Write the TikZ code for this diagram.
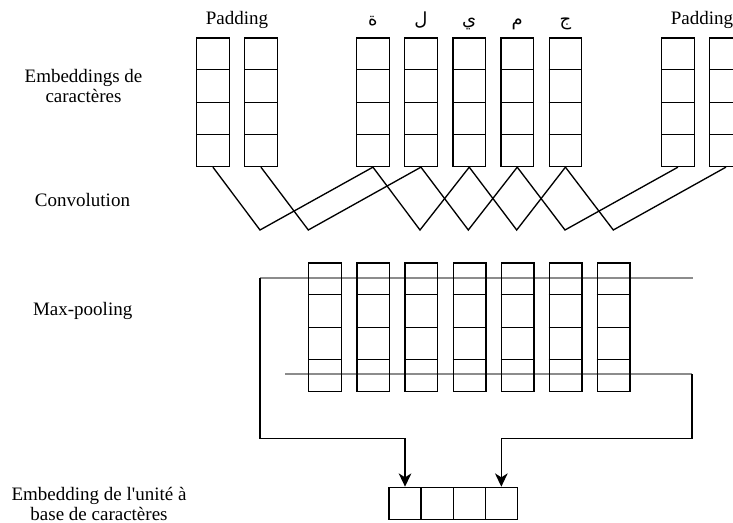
\documentclass[tikz,border=0pt]{standalone}
\usepackage{fontspec}
\setmainfont{Liberation Serif}
\newfontfamily\arabicfont[Script=Arabic]{DejaVu Sans}
\TeXXeTstate=1
\usetikzlibrary{calc,arrows.meta}
\definecolor{lgray}{RGB}{140,140,140}
\begin{document}
\begin{tikzpicture}[x=0.75pt,y=-0.75pt,
  col/.style={draw,line width=1pt,inner sep=0pt,minimum width=24.4pt,minimum height=96.4pt,anchor=north west},
  cell/.style={draw,line width=1pt,inner sep=0pt,minimum width=24.1pt,minimum height=24.2pt,anchor=north west},
  wire/.style={line width=1pt},
  grayline/.style={line width=1.5pt,draw=lgray},
  arr/.style={line width=1pt,-{Stealth[length=10pt,width=9.5pt,inset=3pt]}},
  lbl/.style={font=\fontsize{14.25}{15}\selectfont,inner sep=0pt,align=center},
  ar/.style={font=\fontsize{13.5}{15}\arabicfont,inner sep=0pt,anchor=base}]
\useasboundingbox (0,0) rectangle (733,523);
\clip (0,0) rectangle (733,523);

% labels
\node[lbl] (l1) at (83.5,86.5) {Embeddings de\\caractères};
\node[lbl,anchor=base] (l2) at (82.5,206.5) {Convolution};
\node[lbl,anchor=base] (l3) at (82.7,316) {Max-pooling};
\node[lbl] (l4) at (99,503.5) {Embedding de l\textquotesingle unité à\\base de caractères};

% top columns
\foreach \n/\x in {t1/196,t2/244,t3/356,t4/404,t5/452.3,t6/500.3,t7/548.5,t8/661,t9/709}
  \node[col] (\n) at (\x,37.3) {};

\node[lbl,anchor=base] (p1) at ($(t1.north east)!0.5!(t2.north west)+(0,-12.5)$) {Padding};
\node[lbl,anchor=base] (p2) at ($(t8.north east)!0.5!(t9.north west)+(0,-12.5)$) {Padding};
\node[ar] (a1) at ($(t3.north)+(0,-12)$) {\beginR ة\endR};
\node[ar] (a2) at ($(t4.north)+(0,-12)$) {\beginR ل\endR};
\node[ar] (a3) at ($(t5.north)+(0,-12)$) {\beginR ي\endR};
\node[ar] (a4) at ($(t6.north)+(0,-12)$) {\beginR م\endR};
\node[ar] (a5) at ($(t7.north)+(0,-12)$) {\beginR ج\endR};

% convolution
\foreach \n/\x in {v1/260,v2/308.3,v3/420,v4/468.3,v5/516.7,v6/565,v7/613.3}
  \coordinate (\n) at (\x,230);
\foreach \k [evaluate=\k as \j using int(\k+2)] in {1,...,7}
  \draw[wire] (t\k.south) -- (v\k) -- (t\j.south);

% max-pooling gray lines
\coordinate (g1a) at (260,277.7);
\coordinate (g1b) at (692.5,277.7);
\coordinate (g2a) at (285,374.3);
\coordinate (g2b) at (692,374.3);
\draw[grayline] (g1a) -- (g1b);
\draw[grayline] (g2a) -- (g2b);

% middle columns
\foreach \n/\x in {m1/308,m2/356.3,m3/404.3,m4/452.7,m5/500.7,m6/548.7,m7/596.7}
  \node[col] (\n) at (\x,262.3) {};

% dividers
\foreach \n in {t1,t2,t3,t4,t5,t6,t7,t8,t9,m1,m2,m3,m4,m5,m6,m7}
  \foreach \k in {1,2,3}
    \draw[wire] ($(\n.north west)!\k/4!(\n.south west)$) -- ($(\n.north east)!\k/4!(\n.south east)$);

% bottom embedding
\foreach \n/\x in {b1/388.3,b2/420.4,b3/452.5,b4/484.6}
  \node[cell] (\n) at (\x,486.7) {};

% arrows
\coordinate (c1) at (260,438.5);
\coordinate (c2) at (692,438.5);
\draw[arr] (g1a) -- (c1) -| (b1.north);
\draw[arr] (g2b) -- (c2) -| (b4.north);
\end{tikzpicture}
\end{document}
